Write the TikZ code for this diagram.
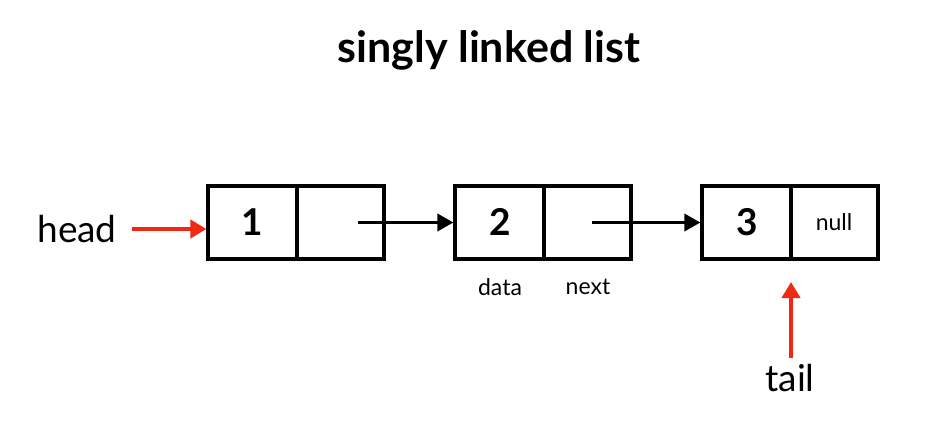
\documentclass[tikz,border=0pt]{standalone}
\usepackage{fontspec}
\setmainfont{Lato}
\usetikzlibrary{arrows.meta}
\begin{document}
\begin{tikzpicture}[x=1pt,y=-1pt,
  cell/.style={draw=black,line width=3.2pt,minimum height=73pt,inner sep=0pt},
  dcell/.style={cell,minimum width=89pt},
  ncell/.style={cell,minimum width=87pt},
  num/.style={font=\fontsize{37}{40}\selectfont\bfseries},
  lbl/.style={font=\fontsize{23}{26}\selectfont},
  big/.style={font=\fontsize{37}{40}\selectfont},
  blk/.style={line width=3.6pt,-{Triangle[length=16pt,width=17pt]}},
  redarr/.style={draw={rgb,255:red,240;green,40;blue,20},line width=4pt,-{Triangle[length=16pt,width=18pt]}}]
\useasboundingbox (0,0) rectangle (939,441);
\node[font=\fontsize{43}{48}\selectfont\bfseries] (title) at (489,50) {singly linked list};
\node[dcell] (d1) at (252.5,222.5) {};
\node[ncell] (n1) at (340.5,222.5) {};
\node[dcell] (d2) at (499.5,222.5) {};
\node[ncell] (n2) at (587.5,222.5) {};
\node[dcell] (d3) at (746.5,222.5) {};
\node[ncell] (n3) at (834.5,222.5) {};
\node[num] at (252,222) {1};
\node[num] at (500,222) {2};
\node[num] at (747,222) {3};
\node[lbl] (null) at (834,222) {null};
\node[lbl] (data) at (500,287) {data};
\node[lbl] (next) at (588,287) {next};
\node[big] (head) at (77,229) {head};
\node[big] (tail) at (790,378) {tail};
\coordinate (s1) at (358,222.5);
\coordinate (s2) at (592,222.5);
\draw[blk] (s1) -- (d2.west);
\draw[blk] (s2) -- (d3.west);
\draw[redarr] (132,229) -- (d1.west |- 0,229);
\draw[redarr] (791,358) -- (791,282);
\end{tikzpicture}
\end{document}
